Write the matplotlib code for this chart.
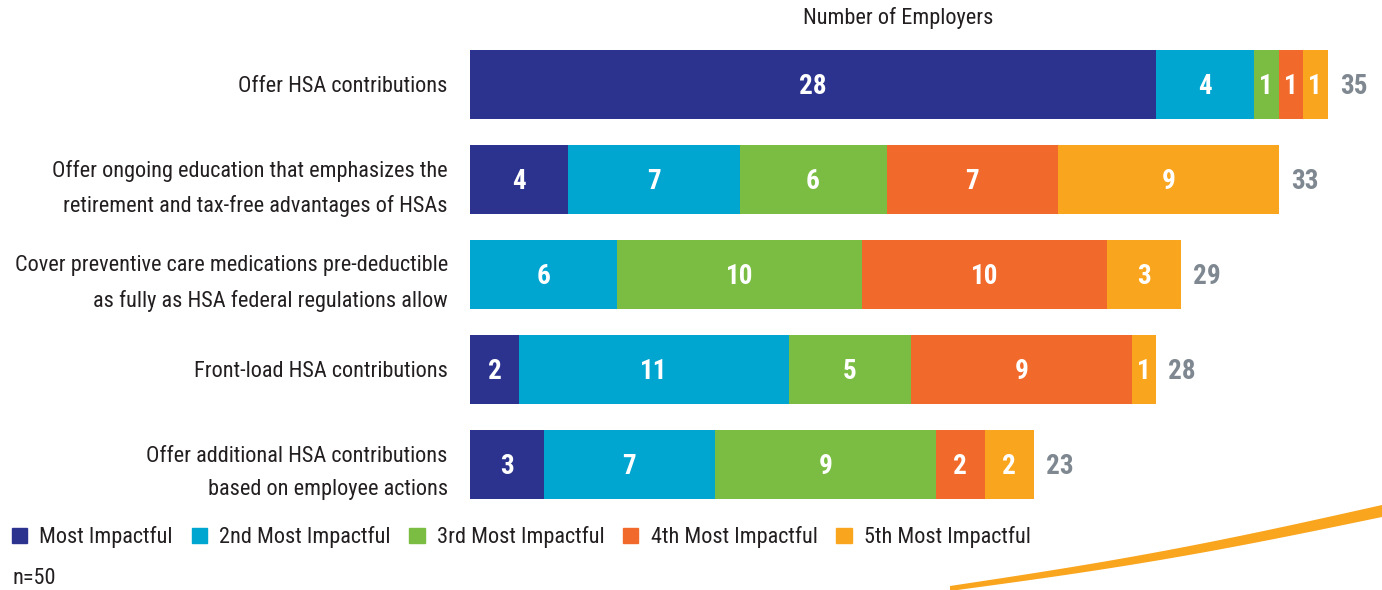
import matplotlib
matplotlib.use("Agg")
import matplotlib.pyplot as plt
import matplotlib.font_manager as fm
from matplotlib.patches import Patch, Polygon
import numpy as np

categories = [
    "Offer HSA contributions",
    "Offer ongoing education that emphasizes the\nretirement and tax-free advantages of HSAs",
    "Cover preventive care medications pre-deductible\nas fully as HSA federal regulations allow",
    "Front-load HSA contributions",
    "Offer additional HSA contributions\nbased on employee actions",
]
series_names = ["Most Impactful", "2nd Most Impactful", "3rd Most Impactful",
                "4th Most Impactful", "5th Most Impactful"]
most = [28, 4, 0, 2, 3]
second = [4, 7, 6, 11, 7]
third = [1, 6, 10, 5, 9]
fourth = [1, 7, 10, 9, 2]
fifth = [1, 9, 3, 1, 2]
totals = [35, 33, 29, 28, 23]
colors = ["#2B338E", "#00A5D0", "#7BBD42", "#F26A2B", "#F9A51E"]

# pick a condensed font if available
entries = fm.fontManager.ttflist
names = {f.name for f in entries}
family = ['DejaVu Sans']
stretch = 'normal'
for cand in ['Liberation Sans Narrow', 'Roboto Condensed', 'Open Sans Condensed']:
    if cand in names:
        family = [cand, 'DejaVu Sans']
        break
else:
    if any(f.name == 'DejaVu Sans' and str(f.stretch) in ('condensed', 'semi-condensed')
           for f in entries):
        stretch = 'condensed'
plt.rcParams['font.family'] = family
plt.rcParams['font.stretch'] = stretch

fig = plt.figure(figsize=(13.82, 5.90), dpi=100)
ax = fig.add_axes([470/1382, (590-511.5)/590, 882/1382, 475/590])

series = [most, second, third, fourth, fifth]
y = np.arange(len(categories))
left = np.zeros(len(categories))
for vals, col, name in zip(series, colors, series_names):
    vals = np.array(vals, dtype=float)
    ax.barh(y, vals, left=left, height=69/95, color=col, label=name)
    for yi, l, v in zip(y, left, vals):
        if v > 0:
            ax.text(l + v/2, yi + 0.03, f"{int(v)}", ha="center", va="center",
                    color="white", fontsize=19.5, fontweight="black")
    left += vals

for yi, t, l in zip(y, totals, left):
    ax.text(l + 0.5, yi + 0.03, f"{t}", ha="left", va="center", color="#7F8890",
            fontsize=19.5, fontweight="black", clip_on=False)

ax.set_xlim(0, 36)
ax.set_ylim(4.5, -0.5)
ax.set_yticks(y)
ax.set_yticklabels(categories, fontsize=16, color="#231F20", linespacing=1.8)
ax.tick_params(axis="y", length=0, pad=16)
ax.set_xticks([])
for s in ax.spines.values():
    s.set_visible(False)

fig.text(898/1382, 1 - 18/590, "Number of Employers", ha="center", va="center",
         fontsize=16, color="#231F20")

handles = [Patch(color=c, label=n) for c, n in zip(colors, series_names)]
fig.legend(handles=handles, loc="center left", bbox_to_anchor=(12/1382, 1 - 537/590),
           ncol=5, frameon=False, fontsize=16, handlelength=0.68, handleheight=0.68,
           handletextpad=0.55, columnspacing=0.85, labelcolor="#231F20",
           borderaxespad=0, borderpad=0)

fig.text(12/1382, 1 - 578/590, "n=50", ha="left", va="center", fontsize=16,
         color="#231F20")

# decorative swoosh
t = np.linspace(0, 1, 60)
xs = 950 + t * 432
ytop = 586 - t * 81 + 5 * np.sin(np.pi * t)
thick = 5 + 7 * t
upper = np.column_stack([xs / 1382, 1 - ytop / 590])
lower = np.column_stack([xs[::-1] / 1382, 1 - (ytop[::-1] + thick[::-1]) / 590])
fig.patches.append(Polygon(np.vstack([upper, lower]), closed=True,
                           transform=fig.transFigure, color="#F9A51E", lw=0))

fig.savefig("out.png", dpi=100)
